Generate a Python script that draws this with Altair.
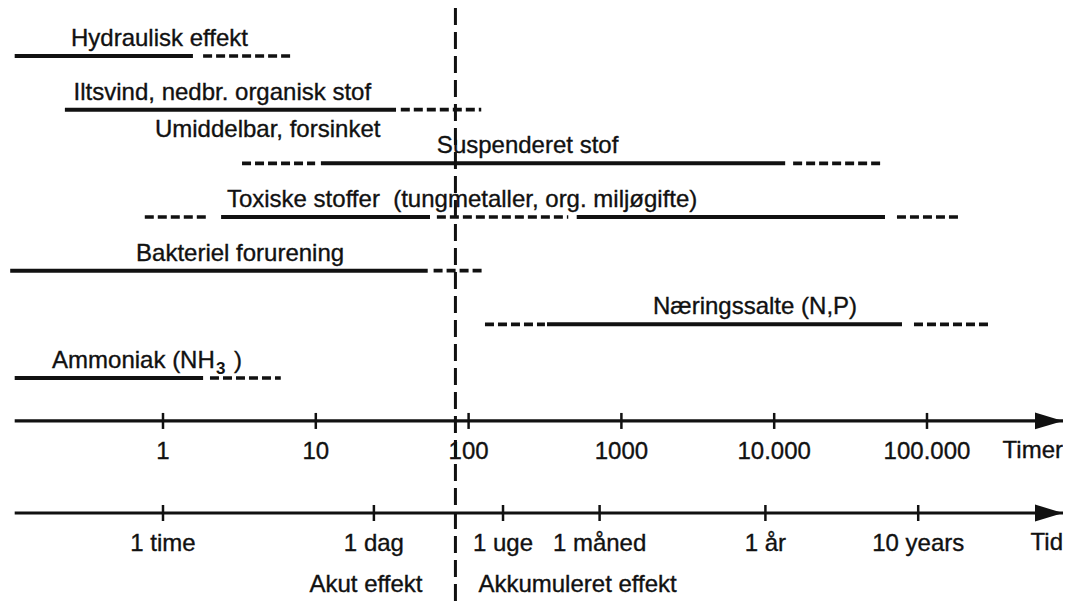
import altair as alt
import pandas as pd

# ---------------- data (hours on a log time axis) ----------------
effects = [
    "Hydraulisk effekt",
    "Iltsvind, nedbr. organisk stof",
    "Suspenderet stof",
    "Toxiske stoffer\u00a0 (tungmetaller, org. miljøgifte)",
    "Bakteriel forurening",
    "Næringssalte (N,P)",
    "Ammoniak (NH",
]
effect_rows = [1, 2, 3, 4, 5, 6, 7]
label_start_h = [0.25, 0.26, 62, 2.62, 0.666, 1610, 0.188]

# segments: effect index, start hour, end hour, kind (solid = umiddelbar, dashed = forsinket)
seg_effect = [0, 0, 1, 1, 2, 2, 2, 3, 3, 3, 3, 3, 4, 4, 5, 5, 5, 6, 6]
seg_start_h = [0.107, 1.83, 0.228, 36, 3.29, 10.8, 13300, 0.76, 2.4, 62, 510, 63600,
               0.1, 59, 128, 326, 82200, 0.107, 2.03]
seg_end_h = [1.57, 6.8, 33.5, 121, 9.9, 11800, 49500, 1.97, 55.9, 449, 53100, 169000,
             54, 126, 316, 68600, 266000, 1.83, 5.9]
seg_kind = ["solid", "dashed", "solid", "dashed", "dashed", "solid", "dashed",
            "dashed", "solid", "dashed", "solid", "dashed",
            "solid", "dashed", "dashed", "solid", "dashed", "solid", "dashed"]

subscript_text = ["3", ")"]

hour_ticks = [1, 10, 100, 1000, 10000, 100000]
hour_labels = ["1", "10", "100", "1000", "10.000", "100.000"]
time_ticks = [1, 24, 168, 720, 8760, 87600]
time_labels = ["1 time", "1 dag", "1 uge", "1 måned", "1 år", "10 years"]
axis_titles = ["Timer", "Tid"]

divider_h = 82
region_labels = ["Akut effekt", "Akkumuleret effekt"]
legend_note = "Umiddelbar, forsinket"

# ---------------- layout constants ----------------
INK = "#111111"
FONT = "Liberation Sans"
FS = 24
TEXT_STYLE = dict(fontSize=FS, font=FONT, color=INK, stroke=INK, strokeWidth=0.35)
X_MIN, X_MAX = 10 ** -1.0144, 10 ** 5.8901
Y_MIN, Y_MAX = 0.1057, 11.248
AXIS_START_H = 0.107
TIMER_ROW, TID_ROW = 7.8, 9.515
REGION_ROW = 10.85

XS = alt.Scale(type="log", domain=[X_MIN, X_MAX], nice=False)
YS = alt.Scale(domain=[Y_MIN, Y_MAX], reverse=True, nice=False, zero=False)


def X(f):
    return alt.X(f, type="quantitative", scale=XS, axis=None)


def Y(f):
    return alt.Y(f, type="quantitative", scale=YS, axis=None)


seg_df = pd.DataFrame({
    "row": [effect_rows[i] for i in seg_effect],
    "start": seg_start_h,
    "end": seg_end_h,
    "kind": seg_kind,
})
lab_df = pd.DataFrame({"row": effect_rows, "h": label_start_h, "label": effects})

solid = alt.Chart(seg_df).transform_filter("datum.kind == 'solid'").mark_rule(
    strokeWidth=4, color=INK, strokeCap="butt"
).encode(x=X("start"), x2="end:Q", y=Y("row"))

dashed = alt.Chart(seg_df).transform_filter("datum.kind == 'dashed'").mark_rule(
    strokeWidth=3.6, color=INK, strokeCap="butt", strokeDash=[9, 4]
).encode(x=X("start"), x2="end:Q", y=Y("row"))

labels = alt.Chart(lab_df).mark_text(
    align="left", baseline="alphabetic", dy=-10, **TEXT_STYLE
).encode(x=X("h"), y=Y("row"), text="label:N")

amm_df = pd.DataFrame({"row": [7], "h": [label_start_h[6]]})
sub3 = alt.Chart(amm_df).mark_text(
    align="left", baseline="alphabetic", dx=164, dy=-4, fontSize=17, fontWeight="bold",
    font=FONT, color=INK, text=subscript_text[0]
).encode(x=X("h"), y=Y("row"))
close_par = alt.Chart(amm_df).mark_text(
    align="left", baseline="alphabetic", dx=182, dy=-10, text=subscript_text[1], **TEXT_STYLE
).encode(x=X("h"), y=Y("row"))

note_df = pd.DataFrame({"row": [2], "h": [0.886], "label": [legend_note]})
note = alt.Chart(note_df).mark_text(
    align="left", baseline="alphabetic", dy=27, **TEXT_STYLE
).encode(x=X("h"), y=Y("row"), text="label:N")

# time axes
axes_df = pd.DataFrame({"row": [TIMER_ROW, TID_ROW], "start": [AXIS_START_H] * 2,
                        "end": [X_MAX] * 2, "title": axis_titles})
axis_lines = alt.Chart(axes_df).mark_rule(strokeWidth=3.2, color=INK).encode(
    x=X("start"), x2="end:Q", y=Y("row"))
arrows = alt.Chart(axes_df).mark_point(
    shape="M-2,-0.6L0,0L-2,0.6Z", size=784, filled=True, opacity=1, color=INK
).encode(x=X("end"), y=Y("row"))
axis_title_marks = alt.Chart(axes_df).mark_text(
    align="right", baseline="middle", dy=30, **TEXT_STYLE
).encode(x=X("end"), y=Y("row"), text="title:N")

ticks_df = pd.DataFrame({
    "h": hour_ticks + time_ticks,
    "row": [TIMER_ROW] * len(hour_ticks) + [TID_ROW] * len(time_ticks),
    "label": hour_labels + time_labels,
})
ticks = alt.Chart(ticks_df).mark_tick(
    orient="vertical", size=16, thickness=2.5, color=INK, opacity=1
).encode(x=X("h"), y=Y("row"))
tick_labels = alt.Chart(ticks_df).mark_text(
    align="center", baseline="middle", dy=31, **TEXT_STYLE
).encode(x=X("h"), y=Y("row"), text="label:N")

# acute / accumulated divider
div_df = pd.DataFrame({"h": [divider_h]})
divider = alt.Chart(div_df).mark_rule(
    strokeWidth=3, color=INK, strokeDash=[17, 7]
).encode(x=X("h"))
akut = alt.Chart(pd.DataFrame({"h": [divider_h], "row": [REGION_ROW], "label": [region_labels[0]]})).mark_text(
    align="right", baseline="middle", dx=-33, **TEXT_STYLE
).encode(x=X("h"), y=Y("row"), text="label:N")
akkum = alt.Chart(pd.DataFrame({"h": [divider_h], "row": [REGION_ROW], "label": [region_labels[1]]})).mark_text(
    align="left", baseline="middle", dx=23, **TEXT_STYLE
).encode(x=X("h"), y=Y("row"), text="label:N")

chart = alt.layer(
    divider, solid, dashed, labels, sub3, close_par, note,
    axis_lines, arrows, ticks, tick_labels, axis_title_marks, akut, akkum,
).properties(
    width=1055, height=598, padding=0, autosize="none", background="white"
).configure_view(stroke=None)

chart.save("out.html", embed_options={"renderer": "svg", "actions": False})
